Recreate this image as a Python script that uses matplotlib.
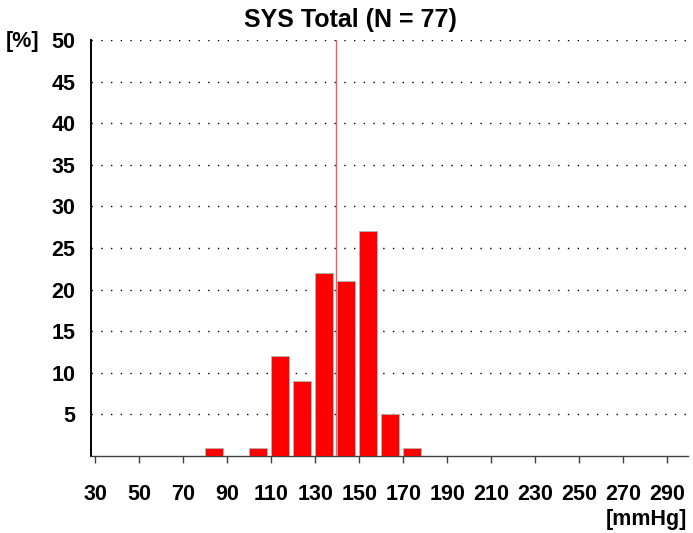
import numpy as np
import matplotlib.pyplot as plt

# Systolic blood pressure histogram (bins of 10 mmHg)
bin_starts = [80, 100, 110, 120, 130, 140, 150, 160, 170]
percents = [1, 1, 12, 9, 22, 21, 27, 5, 1]
mean_value = 139.5
n_total = 77

x_ticks = list(range(30, 300, 20))
y_ticks = list(range(5, 55, 5))

plt.rcParams['font.family'] = ['Liberation Sans', 'DejaVu Sans']
plt.rcParams['font.weight'] = 'bold'

fig = plt.figure(figsize=(6.93, 5.33), dpi=100)
ax = fig.add_axes([91 / 693, 1 - 456 / 533, (688 - 91) / 693, (456 - 40) / 533])

ax.bar(bin_starts, percents, width=8.2, align='edge', color='#ff0000',
       edgecolor='#b4b4b4', linewidth=0.6, zorder=3)
ax.axvline(mean_value, color='#ff5a5a', linewidth=1.0, zorder=4)

ax.set_xlim(28, 299.5)
ax.set_ylim(0, 50)
ax.set_xticks(x_ticks)
ax.set_yticks(y_ticks)
ax.tick_params(axis='x', length=5, width=1, color='#404040', pad=15, labelsize=15.5)
ax.tick_params(axis='y', length=0, pad=11, labelsize=15.5)

for y in y_ticks:
    ax.axhline(y, color='black', linewidth=1.0, linestyle=(0, (1, 6)), zorder=1)

for side in ['top', 'right']:
    ax.spines[side].set_visible(False)
ax.spines['left'].set_linewidth(1.4)
ax.spines['left'].set_color('black')
ax.spines['bottom'].set_linewidth(1.0)
ax.spines['bottom'].set_color('#404040')

fig.text(350 / 693, 1 - 20 / 533, f'SYS Total (N = {n_total})', fontsize=18,
         fontweight='bold', ha='center', va='center')
fig.text(23 / 693, 1 - 42 / 533, '[%]', fontsize=15.5, fontweight='bold',
         ha='center', va='center')
fig.text(687 / 693, 1 - 520 / 533, '[mmHg]', fontsize=15.5, fontweight='bold',
         ha='right', va='center')

fig.savefig('out.png', dpi=100)
